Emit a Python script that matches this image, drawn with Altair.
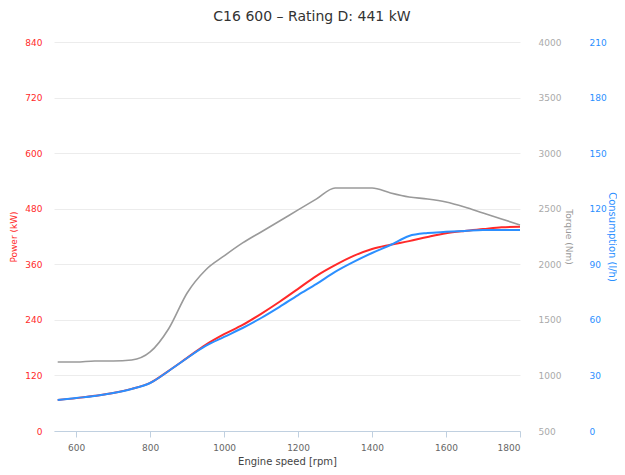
import altair as alt
import pandas as pd

rpm = [550, 600, 650, 700, 750, 800, 850, 900, 950, 1000, 1050, 1100, 1150, 1200,
       1250, 1300, 1350, 1400, 1450, 1500, 1550, 1600, 1650, 1700, 1750, 1800]
power_kw = [67, 71, 76, 82, 91, 104, 130, 158, 186, 209, 229, 253, 279, 307,
            335, 358, 378, 393, 402, 410, 419, 427, 432, 436, 440, 441]
torque_nm = [1121, 1121, 1130, 1130, 1139, 1211, 1420, 1742, 1949, 2075, 2192, 2291, 2390, 2489,
             2588, 2687, 2687, 2687, 2642, 2606, 2588, 2561, 2516, 2462, 2408, 2354]
consumption_lh = [16.7, 17.8, 18.9, 20.5, 22.7, 25.9, 32.4, 39.4, 45.9, 50.8, 55.6, 61.0, 67.0, 73.4,
                  79.4, 85.9, 91.3, 96.1, 100.4, 105.3, 106.9, 107.5, 108.0, 108.5, 108.5, 108.5]

power_ticks = [0, 120, 240, 360, 480, 600, 720, 840]
torque_ticks = [500, 1000, 1500, 2000, 2500, 3000, 3500, 4000]
cons_ticks = [0, 30, 60, 90, 120, 150, 180, 210]
rpm_ticks = [600, 800, 1000, 1200, 1400, 1600, 1800]

df = pd.DataFrame({"rpm": rpm, "power": power_kw, "torque": torque_nm, "cons": consumption_lh})

RED = "#ff2a2a"
BLUE = "#2b8fff"
GRAY = "#9a9a9a"
FONT = "DejaVu Sans"

x = alt.X("rpm:Q", scale=alt.Scale(domain=[540, 1800], nice=False, zero=False),
          axis=alt.Axis(values=rpm_ticks, format="d", title="Engine speed [rpm]", grid=False,
                        domainColor="#c0d0e0", tickColor="#c0d0e0", tickSize=6,
                        labelColor="#666666", labelFontSize=9, labelFont=FONT,
                        titleColor="#444444", titleFontSize=10, titleFont=FONT,
                        titleFontWeight="normal", labelPadding=6, titlePadding=4))

base = alt.Chart(df).encode(x=x)

p = base.mark_line(color=RED, strokeWidth=2, interpolate="monotone").encode(
    y=alt.Y("power:Q", scale=alt.Scale(domain=[0, 840], nice=False),
            axis=alt.Axis(orient="left", values=power_ticks, format="d", title="Power (kW)",
                          grid=True, gridColor="#ececec", domain=False, ticks=False,
                          labelColor=RED, labelFontSize=9, labelFont=FONT, labelPadding=12,
                          titleColor=RED, titleFontSize=9, titleFont=FONT,
                          titleFontWeight="normal", titlePadding=6)))

t = base.mark_line(color=GRAY, strokeWidth=1.6, interpolate="monotone").encode(
    y=alt.Y("torque:Q", scale=alt.Scale(domain=[500, 4000], nice=False, zero=False),
            axis=alt.Axis(orient="right", values=torque_ticks, format="d", title="Torque (Nm)",
                          grid=False, domain=False, ticks=False,
                          labelColor="#aaaaaa", labelFontSize=9, labelFont=FONT, labelPadding=18,
                          titleColor="#999999", titleFontSize=9, titleFont=FONT,
                          titleFontWeight="normal", titlePadding=3)))

c = base.mark_line(color=BLUE, strokeWidth=2, interpolate="monotone").encode(
    y=alt.Y("cons:Q", scale=alt.Scale(domain=[0, 210], nice=False),
            axis=alt.Axis(orient="right", values=cons_ticks, format="d", title="Consumption (l/h)",
                          grid=False, domain=False, ticks=False, offset=59,
                          labelColor=BLUE, labelFontSize=9, labelFont=FONT, labelPadding=10,
                          titleColor=BLUE, titleFontSize=10, titleFont=FONT,
                          titleFontWeight="normal", titlePadding=0)))

chart = alt.layer(p, t, c).resolve_scale(y="independent").properties(
    width=466, height=389,
    title=alt.TitleParams("C16 600 – Rating D: 441 kW", font=FONT, fontSize=14,
                          fontWeight="normal", color="#333333", anchor="middle",
                          dx=25, offset=14),
    autosize=alt.AutoSizeParams(type="none"),
    padding={"left": 46, "top": 34, "right": 97, "bottom": 36},
).configure_view(stroke=None)

chart.save("out.html", embed_options={"renderer": "svg", "actions": False})
